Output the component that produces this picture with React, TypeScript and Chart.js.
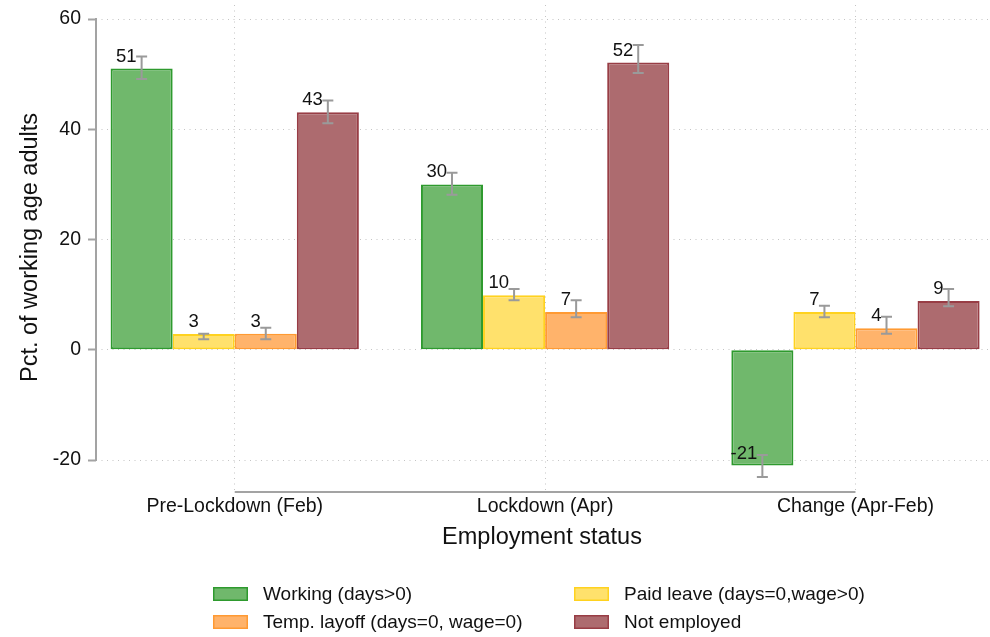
import React, { useEffect, useRef } from "react";
import { Chart, registerables } from "chart.js";

Chart.register(...registerables);

const categories = ["Pre-Lockdown (Feb)", "Lockdown (Apr)", "Change (Apr-Feb)"];
const categoryPositions = [1, 2, 3];
const yTicks = [-20, 0, 20, 40, 60];

const seriesNames = [
  "Working (days>0)",
  "Paid leave (days=0,wage>0)",
  "Temp. layoff (days=0, wage=0)",
  "Not employed",
];

const working = [51, 30, -21];
const workingLow = [49.1, 28.1, -23.1];
const workingHigh = [53.2, 32.1, -19.1];

const paidLeave = [2.85, 9.9, 6.85];
const paidLeaveLow = [1.9, 9.0, 5.9];
const paidLeaveHigh = [2.9, 11.0, 8.0];

const tempLayoff = [2.9, 6.85, 3.9];
const tempLayoffLow = [1.9, 5.9, 2.9];
const tempLayoffHigh = [4.0, 9.0, 6.0];

const notEmployed = [43.1, 52.1, 8.85];
const notEmployedLow = [41.1, 50.2, 7.9];
const notEmployedHigh = [45.2, 55.3, 11.0];

const FONT = '"Liberation Sans", Arial, Helvetica, sans-serif';

const fills = ["#70b86c", "#ffe16c", "#ffb36b", "#ad6b6f"];
const borders = ["#2e9a2e", "#ffd21f", "#ff9a33", "#983d45"];

const seriesValues = [working, paidLeave, tempLayoff, notEmployed];
const seriesLow = [workingLow, paidLeaveLow, tempLayoffLow, notEmployedLow];
const seriesHigh = [workingHigh, paidLeaveHigh, tempLayoffHigh, notEmployedHigh];

const AXIS_COLOR = "#a3a3a3";
const GRID_COLOR = "#c4c4c4";

const axisPlugin = {
  id: "stataAxes",
  afterDraw(chart: any) {
    const { ctx, chartArea, scales } = chart;
    const y = scales.y;
    const x = scales.x;
    ctx.save();
    ctx.strokeStyle = AXIS_COLOR;
    ctx.lineWidth = 2;
    ctx.setLineDash([]);
    ctx.beginPath();
    ctx.moveTo(chartArea.left, y.getPixelForValue(yTicks[yTicks.length - 1]) - 1);
    ctx.lineTo(chartArea.left, y.getPixelForValue(yTicks[0]) + 1);
    ctx.stroke();
    const ay = chartArea.bottom + 2;
    ctx.beginPath();
    ctx.moveTo(x.getPixelForValue(categoryPositions[0]), ay);
    ctx.lineTo(x.getPixelForValue(categoryPositions[categoryPositions.length - 1]), ay);
    ctx.stroke();
    ctx.restore();
  },
};

const errorPlugin = {
  id: "errorBarsLabels",
  afterDatasetsDraw(chart: any) {
    const { ctx, scales } = chart;
    const y = scales.y;
    ctx.save();
    ctx.strokeStyle = "#9a9a9a";
    ctx.lineWidth = 2;
    ctx.setLineDash([]);
    seriesValues.forEach((vals, d) => {
      const meta = chart.getDatasetMeta(d);
      vals.forEach((v, i) => {
        const bar = meta.data[i];
        if (!bar) return;
        const cx = bar.x;
        const yl = y.getPixelForValue(seriesLow[d][i]);
        const yh = y.getPixelForValue(seriesHigh[d][i]);
        ctx.beginPath();
        ctx.moveTo(cx, yl);
        ctx.lineTo(cx, yh);
        ctx.moveTo(cx - 5.5, yl);
        ctx.lineTo(cx + 5.5, yl);
        ctx.moveTo(cx - 5.5, yh);
        ctx.lineTo(cx + 5.5, yh);
        ctx.stroke();
      });
    });
    ctx.fillStyle = "#111";
    ctx.font = `18.5px ${FONT}`;
    ctx.textAlign = "right";
    ctx.textBaseline = "alphabetic";
    seriesValues.forEach((vals, d) => {
      const meta = chart.getDatasetMeta(d);
      vals.forEach((v, i) => {
        const bar = meta.data[i];
        if (!bar) return;
        const py = y.getPixelForValue(v);
        ctx.fillText(String(Math.round(v)), bar.x - 5, py - 7);
      });
    });
    ctx.restore();
  },
};

const legendPlugin = {
  id: "gridLegend",
  afterDraw(chart: any) {
    const { ctx } = chart;
    const colX = [213, 574];
    const rowY = [587, 615];
    ctx.save();
    ctx.font = `19px ${FONT}`;
    ctx.textAlign = "left";
    ctx.textBaseline = "middle";
    seriesNames.forEach((name, k) => {
      const c = k % 2;
      const r = Math.floor(k / 2);
      const bx = colX[c];
      const by = rowY[r];
      ctx.fillStyle = fills[k];
      ctx.fillRect(bx, by, 35, 14);
      ctx.strokeStyle = borders[k];
      ctx.lineWidth = 1.5;
      ctx.strokeRect(bx + 0.75, by + 0.75, 33.5, 12.5);
      ctx.fillStyle = "#111";
      ctx.fillText(name, bx + 50, by + 8);
    });
    ctx.restore();
  },
};

export default function App() {
  const canvasRef = useRef<HTMLCanvasElement | null>(null);

  useEffect(() => {
    const canvas = canvasRef.current;
    if (!canvas) return;
    const datasets = seriesNames.map((name, d) => ({
      label: name,
      data: seriesValues[d].map((v, i) => ({ x: categoryPositions[i], y: v })),
      backgroundColor: fills[d],
      borderColor: borders[d],
      borderWidth: 2,
      borderSkipped: false as any,
      categoryPercentage: 0.8,
      barPercentage: 1.0,
    }));

    const chart = new Chart(canvas, {
      type: "bar",
      data: { datasets },
      options: {
        animation: false,
        responsive: false,
        maintainAspectRatio: false,
        layout: { padding: { left: 0, top: 5, right: 2, bottom: 0 } },
        plugins: {
          legend: { display: false },
          tooltip: { enabled: false },
        },
        scales: {
          x: {
            type: "linear",
            offset: false,
            min: 0.553,
            max: 3.427,
            afterBuildTicks: (scale: any) => {
              scale.ticks = categoryPositions.map((v) => ({ value: v }));
            },
            afterFit: (scale: any) => {
              scale.height = 147;
              scale.paddingLeft = 0;
              scale.paddingRight = 0;
            },
            grid: {
              display: true,
              offset: false,
              color: GRID_COLOR,
              lineWidth: 1,
              drawTicks: false,
            },
            border: { display: false, dash: [1, 4.5] },
            ticks: {
              padding: 5,
              color: "#111",
              font: { family: FONT, size: 19.5 },
              maxRotation: 0,
              autoSkip: false,
              callback: (v: any) => categories[categoryPositions.indexOf(Number(v))] ?? "",
            },
            title: {
              display: true,
              text: "Employment status",
              color: "#111",
              font: { family: FONT, size: 23.5 },
              padding: { top: 0, bottom: 85 },
            },
          },
          y: {
            type: "linear",
            min: -25.44,
            max: 62.54,
            afterBuildTicks: (scale: any) => {
              scale.ticks = yTicks.map((v) => ({ value: v }));
            },
            afterFit: (scale: any) => {
              scale.width = 96;
              scale.paddingTop = 0;
              scale.paddingBottom = 0;
            },
            grid: {
              color: GRID_COLOR,
              lineWidth: 1,
              drawTicks: true,
              tickLength: 8,
              tickColor: AXIS_COLOR,
              tickWidth: 2,
              tickBorderDash: [],
            },
            border: { display: false, dash: [1, 4.5] },
            ticks: {
              padding: 7,
              color: "#111",
              font: { family: FONT, size: 19.5 },
            },
            title: {
              display: true,
              text: "Pct. of working age adults",
              color: "#111",
              font: { family: FONT, size: 23.5 },
              padding: { top: 16, bottom: 0 },
            },
          },
        },
      },
      plugins: [axisPlugin, errorPlugin, legendPlugin],
    } as any);

    return () => {
      chart.destroy();
    };
  }, []);

  return (
    <div style={{ position: "fixed", left: 0, top: 0, width: 990, height: 637, background: "#fff" }}>
      <canvas ref={canvasRef} width={990} height={637} style={{ width: 990, height: 637, display: "block" }} />
    </div>
  );
}
